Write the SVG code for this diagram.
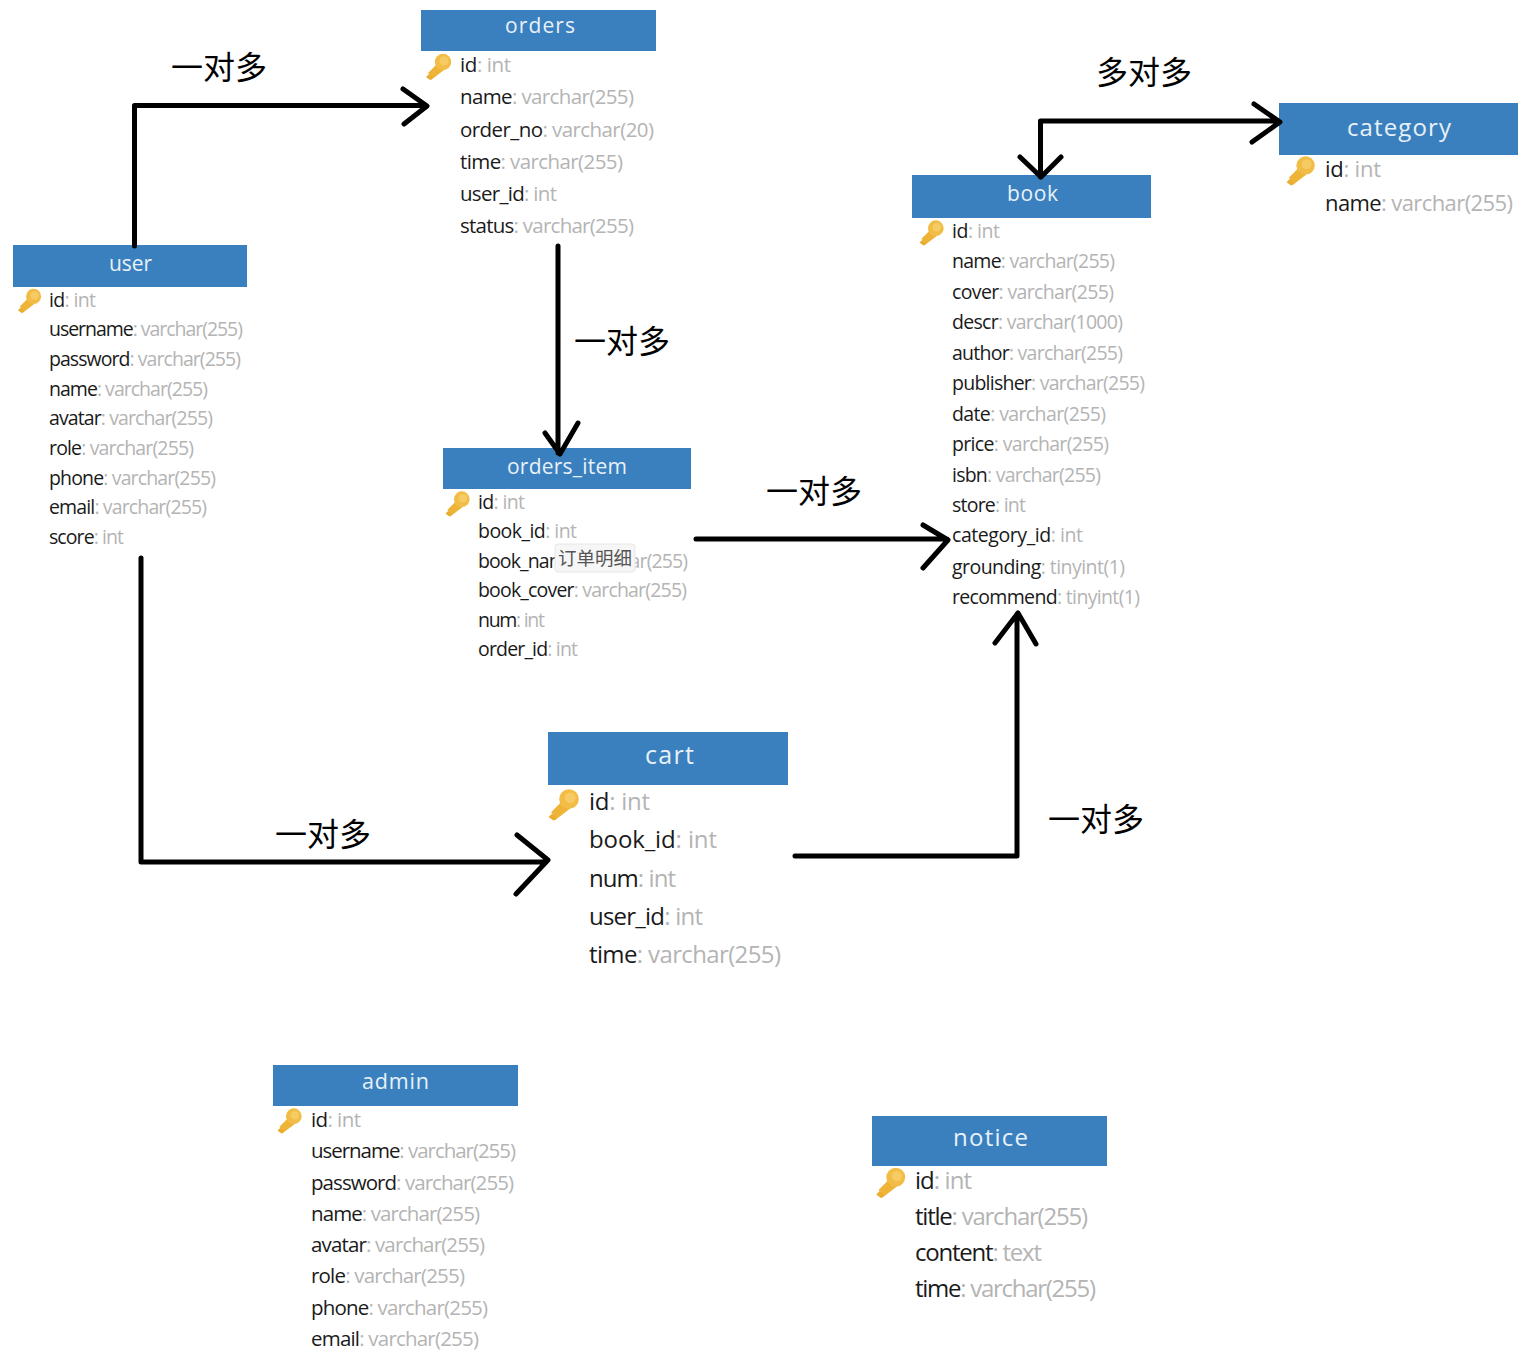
<svg xmlns="http://www.w3.org/2000/svg" xmlns:xlink="http://www.w3.org/1999/xlink" width="1524" height="1363" viewBox="0 0 1524 1363">
<style>
text{font-family:"Open Sans","Noto Sans","Noto Sans CJK SC",sans-serif;fill:#1a1a1a}
.t{fill:#b4b4b4}
.h{fill:#3a80bf}
.ti{fill:#e8f1f8;text-anchor:middle}
.s{font-size:19.5px}
.m{font-size:20.5px}
.l{font-size:24px}
.n{font-size:24px}
.lab{font-size:32px;fill:#000;font-family:"Noto Sans CJK SC","Noto Sans",sans-serif}
.c{fill:none;stroke:#000;stroke-width:5;stroke-linecap:round;stroke-linejoin:round}
</style>
<defs>
<g id="key"><path d="M0 -4 L6 3 L-7 13 L-10 10 L-8 8 L-10 6 Z" transform="translate(0 0)" fill="#eeb437"/><path d="M-12 10 L-8 13 L-5 11 L-9 7 Z" fill="#e9ad30"/><circle cx="5" cy="-5" r="8.2" fill="#f2bd46"/><circle cx="6" cy="-6" r="4.5" fill="#f6cb63"/></g>
</defs>
<rect width="1524" height="1363" fill="#fff"/>
<g id="user">
<rect class="h" x="13" y="245" width="234" height="42"/>
<text class="ti" x="130.500" y="271" font-size="21" textLength="43">user</text>
<use xlink:href="#key" href="#key" transform="translate(29 301) scale(.92)"/>
<g class="s">
<text x="49" y="307" textLength="47">id<tspan class="t">: int</tspan></text>
<text x="49" y="336" textLength="194">username<tspan class="t">: varchar(255)</tspan></text>
<text x="49" y="366" textLength="192">password<tspan class="t">: varchar(255)</tspan></text>
<text x="49" y="396" textLength="159">name<tspan class="t">: varchar(255)</tspan></text>
<text x="49" y="425" textLength="164">avatar<tspan class="t">: varchar(255)</tspan></text>
<text x="49" y="455" textLength="145">role<tspan class="t">: varchar(255)</tspan></text>
<text x="49" y="485" textLength="167">phone<tspan class="t">: varchar(255)</tspan></text>
<text x="49" y="514" textLength="158">email<tspan class="t">: varchar(255)</tspan></text>
<text x="49" y="544" textLength="75">score<tspan class="t">: int</tspan></text>
</g>
</g>
<g id="orders">
<rect class="h" x="421" y="10" width="235" height="41"/>
<text class="ti" x="540" y="33" font-size="21" textLength="70">orders</text>
<use xlink:href="#key" href="#key" transform="translate(438 67)"/>
<g class="m">
<text x="460" y="72" textLength="51">id<tspan class="t">: int</tspan></text>
<text x="460" y="104" textLength="174">name<tspan class="t">: varchar(255)</tspan></text>
<text x="460" y="137" textLength="194">order_no<tspan class="t">: varchar(20)</tspan></text>
<text x="460" y="169" textLength="163">time<tspan class="t">: varchar(255)</tspan></text>
<text x="460" y="201" textLength="97">user_id<tspan class="t">: int</tspan></text>
<text x="460" y="233" textLength="174">status<tspan class="t">: varchar(255)</tspan></text>
</g>
</g>
<g id="orders_item">
<rect class="h" x="443" y="448" width="248" height="41"/>
<text class="ti" x="567" y="474" font-size="21" textLength="120">orders_item</text>
<use xlink:href="#key" href="#key" transform="translate(457 504) scale(.96)"/>
<g class="s">
<text x="478" y="509" textLength="47">id<tspan class="t">: int</tspan></text>
<text x="478" y="538" textLength="99">book_id<tspan class="t">: int</tspan></text>
<text x="478" y="568" textLength="210">book_name<tspan class="t">: varchar(255)</tspan></text>
<text x="478" y="597" textLength="209">book_cover<tspan class="t">: varchar(255)</tspan></text>
<text x="478" y="627" textLength="67">num<tspan class="t">: int</tspan></text>
<text x="478" y="656" textLength="100">order_id<tspan class="t">: int</tspan></text>
</g>
<g id="tooltip">
<rect x="555" y="544" width="80" height="28" rx="3" fill="#f6f6f6" stroke="#e6e6e6"/>
<text x="558" y="565" font-size="18.5" style="font-family:'Noto Sans CJK SC',sans-serif;fill:#555">订单明细</text>
</g>
</g>
<g id="book">
<rect class="h" x="912" y="175" width="239" height="43"/>
<text class="ti" x="1032.500" y="201" font-size="21" textLength="51">book</text>
<use xlink:href="#key" href="#key" transform="translate(931 233) scale(.96)"/>
<g class="s">
<text x="952" y="238" textLength="48">id<tspan class="t">: int</tspan></text>
<text x="952" y="268" textLength="163">name<tspan class="t">: varchar(255)</tspan></text>
<text x="952" y="299" textLength="162">cover<tspan class="t">: varchar(255)</tspan></text>
<text x="952" y="329" textLength="171">descr<tspan class="t">: varchar(1000)</tspan></text>
<text x="952" y="360" textLength="171">author<tspan class="t">: varchar(255)</tspan></text>
<text x="952" y="390" textLength="193">publisher<tspan class="t">: varchar(255)</tspan></text>
<text x="952" y="421" textLength="154">date<tspan class="t">: varchar(255)</tspan></text>
<text x="952" y="451" textLength="157">price<tspan class="t">: varchar(255)</tspan></text>
<text x="952" y="482" textLength="149">isbn<tspan class="t">: varchar(255)</tspan></text>
<text x="952" y="512" textLength="74">store<tspan class="t">: int</tspan></text>
<text x="952" y="542" textLength="131">category_id<tspan class="t">: int</tspan></text>
<text x="952" y="574" textLength="173">grounding<tspan class="t">: tinyint(1)</tspan></text>
<text x="952" y="604" textLength="188">recommend<tspan class="t">: tinyint(1)</tspan></text>
</g>
</g>
<g id="category">
<rect class="h" x="1279" y="103" width="239" height="52"/>
<text class="ti" x="1399" y="136" font-size="24" textLength="104">category</text>
<use xlink:href="#key" href="#key" transform="translate(1300 171) scale(1.12)"/>
<g style="font-size:22px">
<text x="1325" y="177" textLength="56">id<tspan class="t">: int</tspan></text>
<text x="1325" y="211" textLength="188">name<tspan class="t">: varchar(255)</tspan></text>
</g>
</g>
<g id="cart">
<rect class="h" x="548" y="732" width="240" height="53"/>
<text class="ti" x="669.500" y="764" font-size="25" textLength="49">cart</text>
<use xlink:href="#key" href="#key" transform="translate(563 805) scale(1.2)"/>
<g class="l">
<text x="589" y="810" textLength="61">id<tspan class="t">: int</tspan></text>
<text x="589" y="848" textLength="128">book_id<tspan class="t">: int</tspan></text>
<text x="589" y="887" textLength="87">num<tspan class="t">: int</tspan></text>
<text x="589" y="925" textLength="114">user_id<tspan class="t">: int</tspan></text>
<text x="589" y="963" textLength="192">time<tspan class="t">: varchar(255)</tspan></text>
</g>
</g>
<g id="admin">
<rect class="h" x="273" y="1065" width="245" height="41"/>
<text class="ti" x="395.500" y="1089" font-size="21.5" textLength="67">admin</text>
<use xlink:href="#key" href="#key" transform="translate(289 1121) scale(.96)"/>
<g class="m">
<text x="311" y="1127" textLength="50">id<tspan class="t">: int</tspan></text>
<text x="311" y="1158" textLength="205">username<tspan class="t">: varchar(255)</tspan></text>
<text x="311" y="1190" textLength="203">password<tspan class="t">: varchar(255)</tspan></text>
<text x="311" y="1221" textLength="169">name<tspan class="t">: varchar(255)</tspan></text>
<text x="311" y="1252" textLength="174">avatar<tspan class="t">: varchar(255)</tspan></text>
<text x="311" y="1283" textLength="154">role<tspan class="t">: varchar(255)</tspan></text>
<text x="311" y="1315" textLength="177">phone<tspan class="t">: varchar(255)</tspan></text>
<text x="311" y="1346" textLength="168">email<tspan class="t">: varchar(255)</tspan></text>
</g>
</g>
<g id="notice">
<rect class="h" x="872" y="1116" width="235" height="50"/>
<text class="ti" x="990.500" y="1146" font-size="24" textLength="75">notice</text>
<use xlink:href="#key" href="#key" transform="translate(890 1183) scale(1.15)"/>
<g class="n">
<text x="915" y="1189" textLength="57">id<tspan class="t">: int</tspan></text>
<text x="915" y="1225" textLength="173">title<tspan class="t">: varchar(255)</tspan></text>
<text x="915" y="1261" textLength="127">content<tspan class="t">: text</tspan></text>
<text x="915" y="1297" textLength="181">time<tspan class="t">: varchar(255)</tspan></text>
</g>
</g>
<g id="connectors">
<path class="c" d="M134.500 246V105.500H426M403 89L427 106L404 124"/>
<path class="c" d="M558 246V453M545 433L560 454L578 423"/>
<path class="c" d="M696 539H947M923 525L948 540L923 568"/>
<path class="c" d="M141 558V862H546M517 835L548 860L516 894"/>
<path class="c" d="M795 856H1017V614M995 643L1018 613L1036 644"/>
<path class="c" d="M1040.500 177V121H1278M1020 157L1041 177L1061 157M1254 104L1280 122L1252 142"/>
</g>
<g id="labels">
<text class="lab" x="171" y="79">一对多</text>
<text class="lab" x="1096" y="84">多对多</text>
<text class="lab" x="574" y="353">一对多</text>
<text class="lab" x="766" y="503">一对多</text>
<text class="lab" x="275" y="846">一对多</text>
<text class="lab" x="1048" y="831">一对多</text>
</g>
</svg>
